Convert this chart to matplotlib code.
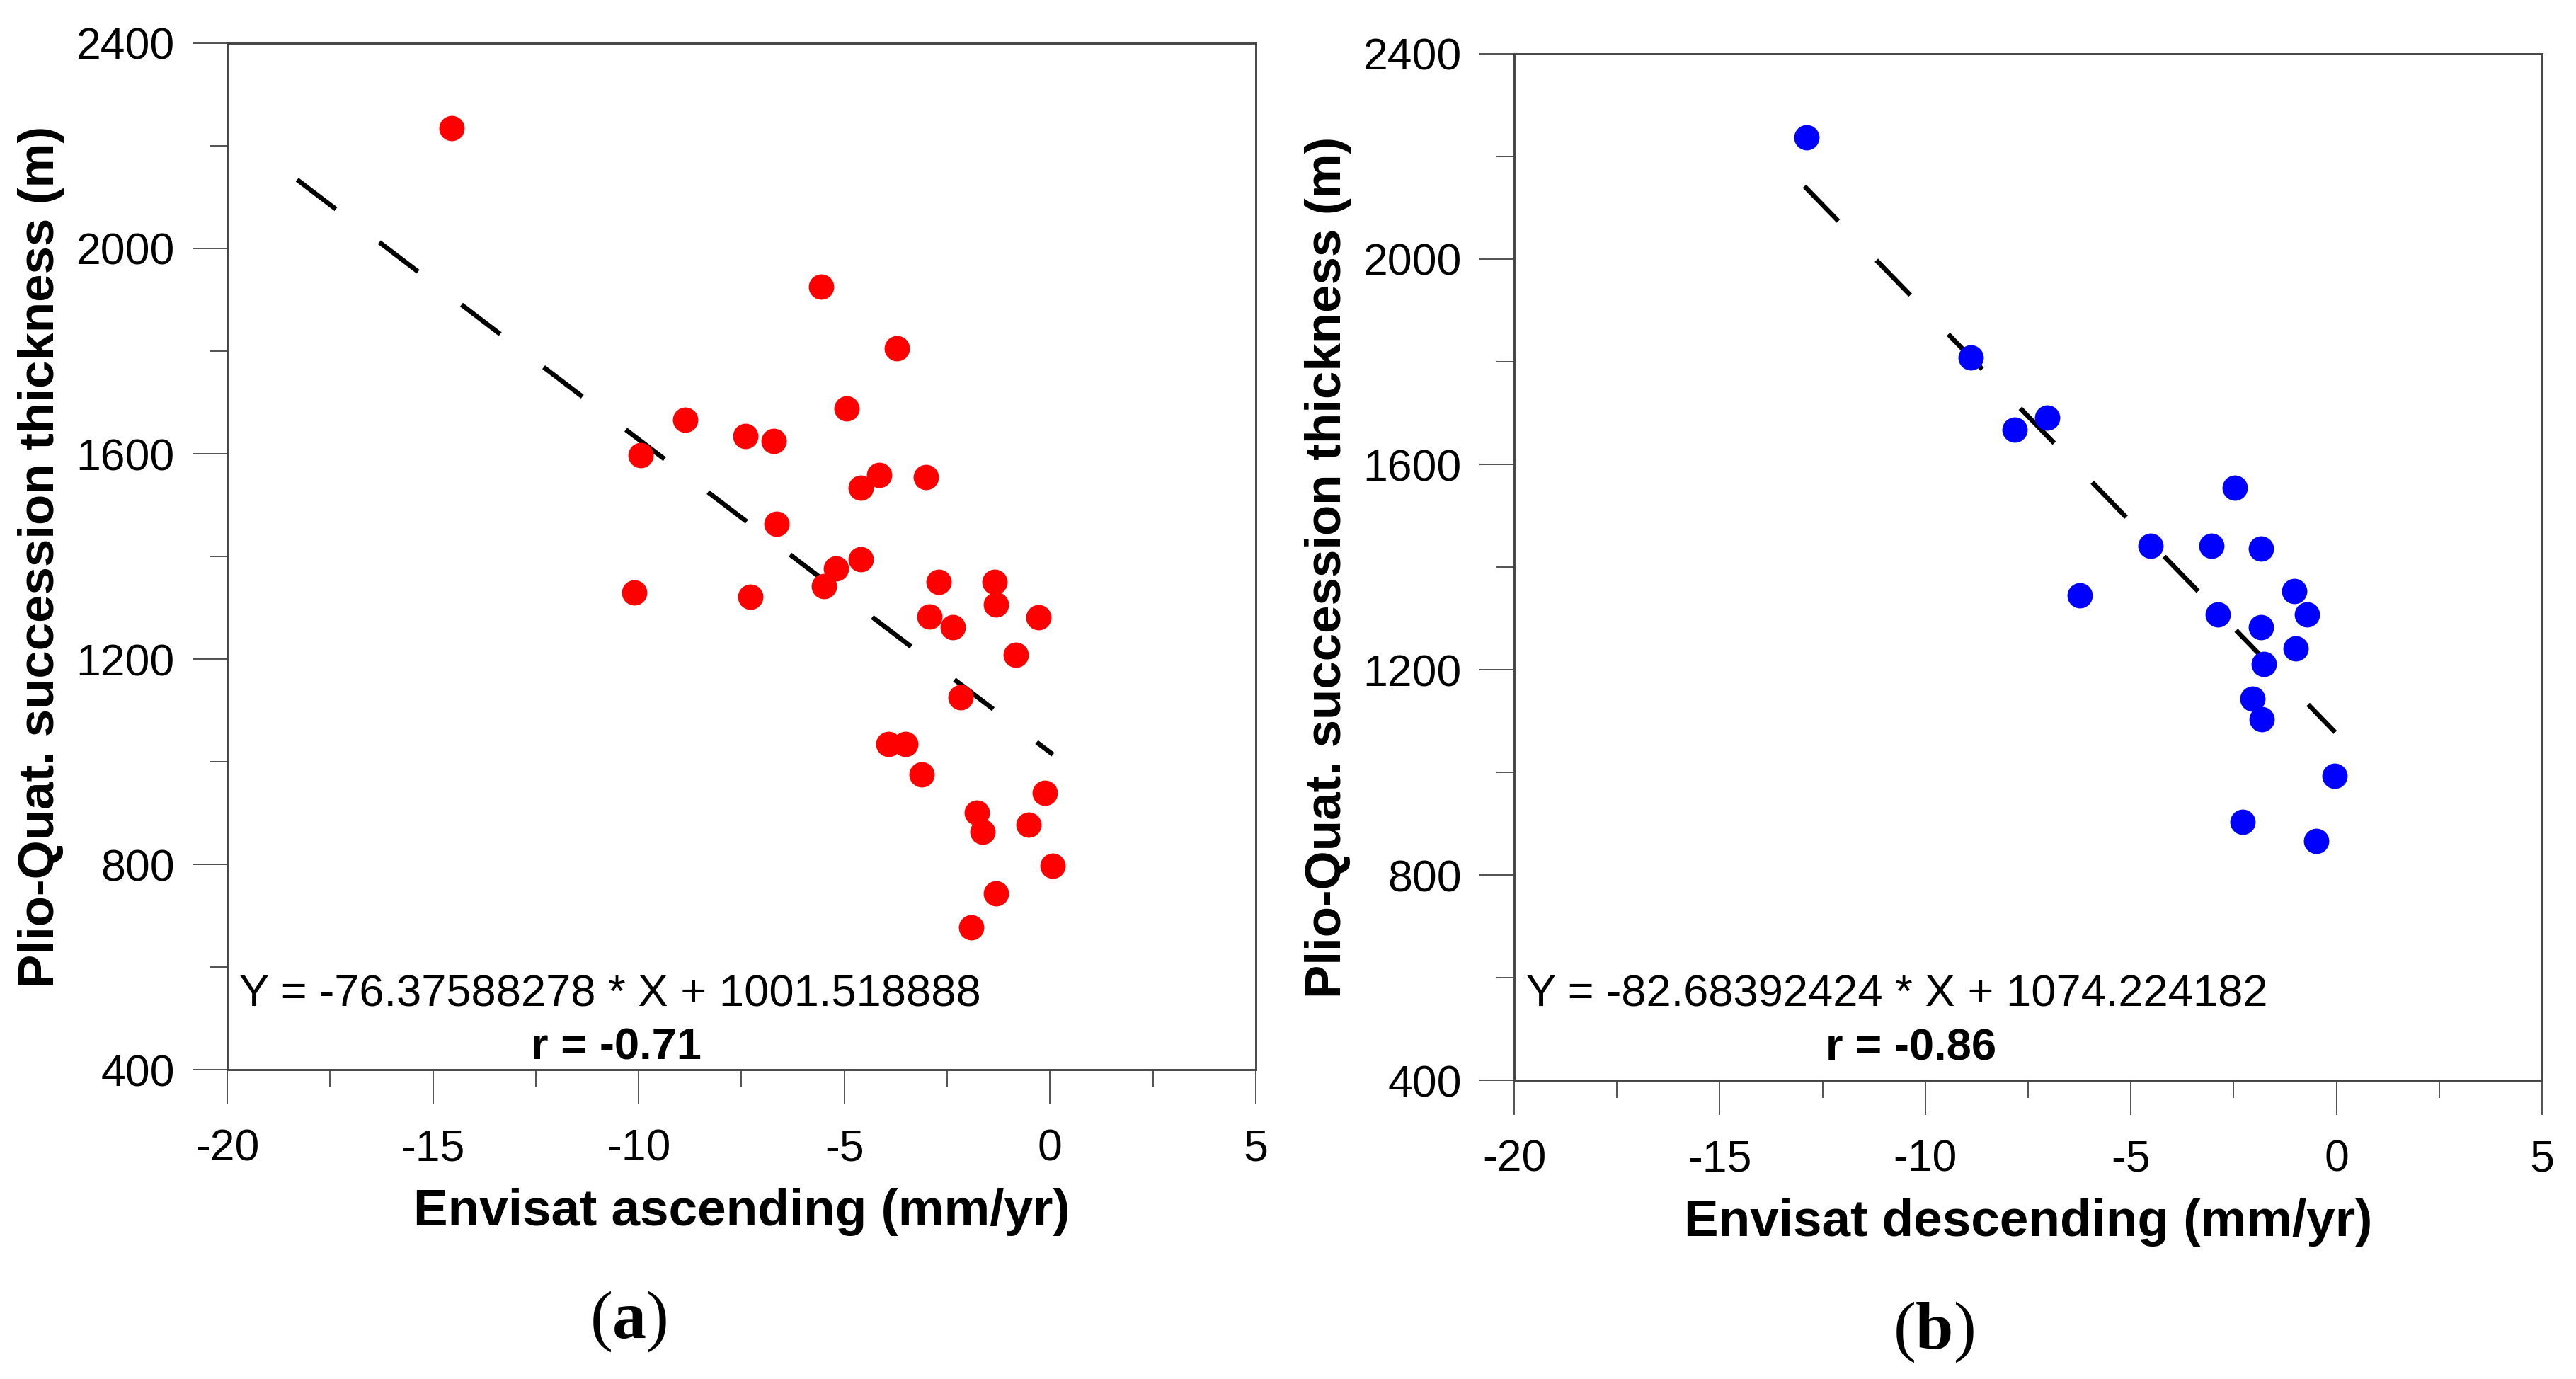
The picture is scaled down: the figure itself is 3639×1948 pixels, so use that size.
import matplotlib
matplotlib.use('Agg')
import matplotlib.pyplot as plt

# Envisat ascending vs Plio-Quaternary thickness
asc_x = [-14.55, -5.56, -3.73, -4.95, -8.86, -7.41, -6.72, -9.96, -4.16, -4.60, -3.01, -6.64,
         -4.60, -5.21, -5.49, -10.11, -7.28, -2.70, -1.35, -1.31, -2.94, -2.37, -0.28, -0.84,
         -2.17, -3.93, -3.52, -3.12, -0.12, -1.78, -1.64, -0.53, 0.07, -1.31, -1.91]
asc_y = [2234, 1926, 1806, 1688, 1666, 1634, 1625, 1597, 1558, 1534, 1554, 1463,
         1395, 1376, 1342, 1330, 1321, 1351, 1351, 1306, 1283, 1262, 1281, 1208,
         1125, 1035, 1035, 975, 939, 901, 863, 877, 797, 744, 677]
asc_fit_x = [-18.3, 0.07]
asc_fit_y = [2134, 1014]

# Envisat descending vs Plio-Quaternary thickness
desc_x = [-12.89, -8.90, -7.83, -7.04, -2.48, -4.52, -3.04, -1.83, -6.25, -1.02,
          -0.71, -2.89, -1.83, -0.99, -1.76, -2.04, -1.81, -0.05, -2.29, -0.49]
desc_y = [2237, 1808, 1667, 1691, 1555, 1442, 1442, 1436, 1345, 1353,
          1308, 1308, 1283, 1241, 1211, 1143, 1103, 993, 904, 866]
desc_fit_x = [-12.94, -0.03]
desc_fit_y = [2142, 1078]

x_ticks = [-20, -15, -10, -5, 0, 5]
y_ticks = [400, 800, 1200, 1600, 2000, 2400]

plt.rcParams['font.family'] = ['Liberation Sans', 'DejaVu Sans']
plt.rcParams['axes.unicode_minus'] = False
plt.rcParams['lines.scale_dashes'] = False
plt.rcParams['mathtext.fontset'] = 'custom'
plt.rcParams['mathtext.rm'] = 'Liberation Serif'
plt.rcParams['mathtext.bf'] = 'Liberation Serif:bold'
label_font = ['Liberation Sans Narrow', 'Liberation Sans', 'DejaVu Sans']

fig = plt.figure(figsize=(3639 / 300, 1948 / 300), dpi=300)

panels = [
    # axes rect, x, y, fit, color, xlabel, equation, r, text positions, tag
    ([0.0882, 0.2243, 0.3993, 0.7444], asc_x, asc_y, asc_fit_x, asc_fit_y, 'red',
     'Envisat ascending (mm/yr)', 'Y = -76.37588278 * X + 1001.518888', 'r = -0.71',
     (0.062, 0.010, 0.378, 0.390), r'($\mathbf{a}$)'),
    ([0.5878, 0.2166, 0.3990, 0.7444], desc_x, desc_y, desc_fit_x, desc_fit_y, 'blue',
     'Envisat descending (mm/yr)', 'Y = -82.68392424 * X + 1074.224182', 'r = -0.86',
     (0.072, 0.020, 0.386, 0.408), r'($\mathbf{b}$)'),
]

for rect, xs, ys, fx, fy, col, xlab, eq, rtxt, tpos, tag in panels:
    ax = fig.add_axes(rect)
    ax.plot(fx, fy, color='black', lw=1.6, dashes=(16.5, 18.5), zorder=2)
    ax.plot(xs, ys, 'o', color=col, ms=8.6, mec='none', zorder=3)
    ax.set_xlim(-20, 5)
    ax.set_ylim(400, 2400)
    ax.set_xticks(x_ticks)
    ax.set_xticks([-17.5, -12.5, -7.5, -2.5, 2.5], minor=True)
    ax.set_yticks(y_ticks)
    ax.set_yticks([600, 1000, 1400, 1800, 2200], minor=True)
    ax.tick_params(axis='both', which='major', direction='out', length=11.8, width=0.4,
                   color='#333333', labelsize=15)
    ax.tick_params(axis='both', which='minor', direction='out', length=6, width=0.4,
                   color='#333333')
    ax.tick_params(axis='x', which='major', pad=8)
    ax.tick_params(axis='y', which='major', pad=6)
    for sp in ax.spines.values():
        sp.set_linewidth(0.7)
        sp.set_color('#444444')
    ax.set_xlabel(xlab, fontsize=17.5, fontweight='bold', family=label_font, labelpad=6)
    ax.set_ylabel('Plio-Quat. succession thickness (m)', fontsize=17, fontweight='bold',
                  family=label_font, labelpad=4)
    ax.text(0.012, tpos[0], eq, transform=ax.transAxes, fontsize=15.2, ha='left', va='baseline')
    ax.text(tpos[2], tpos[1], rtxt, transform=ax.transAxes, fontsize=15.2, fontweight='bold',
            ha='center', va='baseline')
    # panel tag below the plot
    ax.text(tpos[3], -0.245, tag, transform=ax.transAxes, fontsize=23,
            family=['Liberation Serif', 'DejaVu Serif'], ha='center', va='center')

fig.savefig('out.png', dpi=300, facecolor='white')
